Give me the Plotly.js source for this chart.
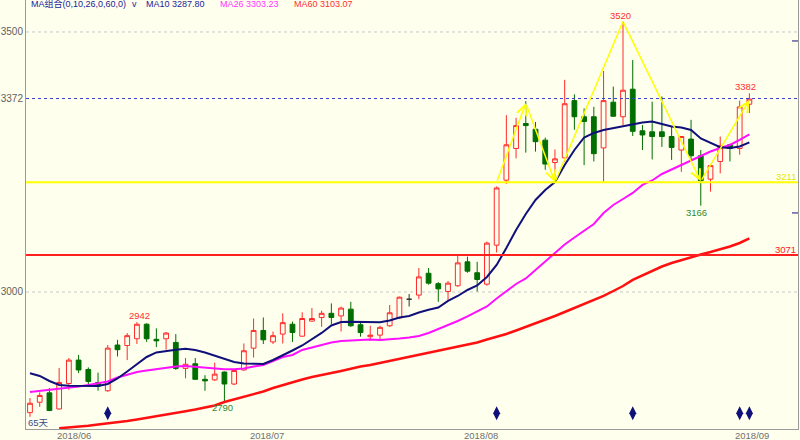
<!DOCTYPE html>
<html><head><meta charset="utf-8">
<script src="https://cdn.plot.ly/plotly-3.0.1.min.js"></script>
<style>html,body{margin:0;padding:0;background:#FFFFEE}</style>
</head><body><div id="chart" style="width:800px;height:440px"></div>
<script>
// ---- data ----
const openP  = [2768,2788,2806,2775,2824,2869,2851,2826,2810,2898,2897,2910,2938,2909,2910,2903,2853,2862,2832,2831,2846,2823,2850,2892,2926,2904,2919,2938,2915,2944,2951,2959,2954,2967,2937,2914,2917,2935,2950,2986,2994,3036,3016,3001,3012,3058,3037,3015,3090,3215,3276,3324,3313,3292,3249,3258,3368,3337,3337,3277,3365,3337,3390,3310,3308,3308,3299,3273,3294,3262,3217,3251,3283,3276,3361];
const highP  = [2796,2807,2815,2854,2873,2879,2855,2845,2898,2908,2921,2942,2940,2930,2923,2919,2873,2873,2840,2864,2847,2850,2901,2949,2951,2924,2959,2943,2961,2969,2964,2978,2972,2981,2944,2935,2935,2975,2991,2996,3046,3046,3019,3021,3071,3068,3058,3097,3203,3340,3335,3367,3327,3297,3274,3408,3380,3353,3356,3425,3395,3520,3446,3321,3366,3376,3318,3299,3331,3273,3246,3299,3285,3368,3382];
const lowP   = [2760,2779,2771,2774,2812,2844,2821,2810,2808,2876,2869,2900,2904,2894,2889,2850,2834,2831,2810,2829,2790,2821,2849,2874,2900,2900,2901,2904,2914,2943,2933,2938,2924,2933,2914,2906,2908,2933,2948,2972,2986,3014,2981,2985,3010,3037,3001,3012,3076,3208,3257,3268,3270,3235,3222,3250,3312,3244,3251,3212,3337,3321,3300,3273,3255,3279,3254,3231,3254,3166,3193,3228,3251,3264,3344];
const closeP = [2786,2801,2772,2826,2869,2850,2828,2819,2892,2889,2916,2938,2910,2906,2921,2853,2861,2832,2829,2842,2823,2849,2887,2926,2908,2916,2941,2922,2949,2949,2959,2951,2969,2935,2922,2917,2932,2960,2990,2986,3029,3017,3006,3017,3056,3040,3024,3094,3200,3283,3320,3320,3289,3246,3256,3362,3337,3328,3266,3368,3338,3388,3309,3302,3299,3299,3278,3299,3262,3214,3243,3281,3276,3356,3371];
const ma10 = [2843.7,2838.5,2828.8,2821.2,2819.8,2819.2,2819.2,2819.2,2823.1,2833.7,2847.1,2861.5,2875.0,2883.7,2886.9,2889.0,2890.8,2888.5,2883.7,2877.9,2871.2,2865.4,2862.5,2861.5,2861.5,2869.2,2877.9,2887.5,2897.1,2909.6,2921.2,2935.6,2942.3,2942.9,2942.3,2941.7,2941.7,2945.2,2951.0,2953.8,2960.6,2965.8,2970.2,2982.7,2992.3,3003.8,3012.5,3028.8,3051.9,3084.6,3119.2,3150.0,3176.9,3196.2,3211.5,3244.2,3273.1,3297.1,3305.8,3311.5,3315.4,3319.2,3323.1,3326.0,3327.9,3323.7,3318.3,3316.3,3311.5,3295.2,3286.5,3278.3,3276.9,3279.8,3287.8];
const ma26 = [2807.7,2809.6,2811.5,2814.4,2816.3,2818.3,2821.2,2824.0,2827.9,2835.6,2841.3,2846.2,2849.0,2851.9,2854.8,2856.7,2857.7,2855.8,2854.2,2852.9,2851.5,2851.3,2852.9,2856.7,2859.6,2867.3,2875.0,2878.8,2888.5,2893.3,2898.1,2902.9,2905.8,2906.7,2908.7,2908.7,2907.7,2908.7,2910.6,2912.5,2915.4,2921.2,2928.8,2935.6,2944.2,2952.9,2962.5,2972.1,2987.5,3001.0,3015.4,3026.0,3042.3,3059.6,3076.0,3091.3,3104.8,3118.3,3130.8,3151.9,3167.3,3178.8,3190.4,3205.8,3214.4,3226.9,3235.6,3245.2,3253.8,3262.5,3270.2,3276.9,3282.7,3292.3,3303.2];
const ma60 = [null,null,null,2737.9,2739.4,2740.4,2742.7,2745.2,2747.1,2749.0,2751.9,2754.8,2757.7,2760.6,2764.4,2767.3,2770.6,2774.0,2777.9,2781.7,2788.5,2793.3,2798.1,2802.9,2808.7,2815.4,2821.2,2826.0,2831.7,2836.5,2839.8,2844.2,2848.1,2852.9,2856.7,2859.6,2863.5,2868.3,2872.1,2876.0,2879.8,2883.7,2887.5,2891.0,2894.2,2898.1,2902.9,2908.7,2913.5,2919.2,2926.0,2932.7,2940.4,2947.1,2953.8,2961.5,2969.2,2976.9,2984.6,2992.3,3001.9,3011.5,3023.1,3031.7,3040.4,3049.0,3055.8,3061.5,3067.3,3072.1,3076.9,3081.7,3087.5,3094.2,3103.1];
const dojiIdx = [39];
const signalIdx = [8, 48, 62, 73, 74];
const signalLevel = 2767;
const zigIdx = [48, 51, 54, 61, 69, 74];
const zigVal = [3211, 3363, 3211, 3520, 3213, 3369];
const zigHead = [true, true, false, true, true];
const peakLabels = [
  {i: 11, v: 2942, txt: '2942', up: true,  color: '#FF3030', dx: 3},
  {i: 20, v: 2790, txt: '2790', up: false, color: '#2E8B2E', dx: -2},
  {i: 61, v: 3520, txt: '3520', up: true,  color: '#FF3030', dx: -3},
  {i: 74, v: 3382, txt: '3382', up: true,  color: '#FF3030', dx: -4},
  {i: 69, v: 3166, txt: '3166', up: false, color: '#2E8B2E', dx: -4}
];
const yTickVals = [3000, 3372, 3500];
const yTickText = ['3000', '3372', '3500'];
const xTickPos  = [4.5, 24.4, 46.4, 74.3];
const xTickText = ['2018/06', '2018/07', '2018/08', '2018/09'];
const supportLevel = 3211, lineLevel = 3071, dotLevel = 3372;
const rightTicks = [3482.7, 3152.0];
const header = [
  {txt: 'MA组合(0,10,26,0,60,0)', px: 29, color: '#1C1C9C'},
  {txt: 'v', px: 130, color: '#1C1C9C'},
  {txt: 'MA10 3287.80', px: 144, color: '#1C1C9C'},
  {txt: 'MA26 3303.23', px: 218, color: '#FF33FF'},
  {txt: 'MA60 3103.07', px: 292, color: '#FF3030'}
];

// ---- build ----
const BG = '#FFFFEE';
const FONT = 'Liberation Sans, Arial, Noto Sans CJK SC, sans-serif';
const N = openP.length;
const days = [...Array(N).keys()];
const isDoji = days.map(i => dojiIdx.includes(i));
const pick = (arr, want) => arr.map((v, i) => isDoji[i] === want ? v : null);

const RED = '#FF2A2A', GREEN = '#006E00';
const traces = [
  {type: 'candlestick', x: days, open: pick(openP,false), high: pick(highP,false), low: pick(lowP,false), close: pick(closeP,false),
   increasing: {line: {color: RED, width: 1}, fillcolor: BG},
   decreasing: {line: {color: GREEN, width: 1}, fillcolor: GREEN},
   whiskerwidth: 0, hoverinfo: 'skip'},
  {type: 'candlestick', x: days, open: pick(openP,true), high: pick(highP,true), low: pick(lowP,true), close: pick(closeP,true),
   increasing: {line: {color: '#333333', width: 1}, fillcolor: '#333333'},
   decreasing: {line: {color: '#333333', width: 1}, fillcolor: '#333333'},
   whiskerwidth: 0, hoverinfo: 'skip'},
  {type: 'scatter', mode: 'lines', x: days, y: ma60, line: {color: '#FF1010', width: 2.5}, hoverinfo: 'skip'},
  {type: 'scatter', mode: 'lines', x: days, y: ma26, line: {color: '#FF10FF', width: 2}, hoverinfo: 'skip'},
  {type: 'scatter', mode: 'lines', x: days, y: ma10, line: {color: '#10107A', width: 2}, hoverinfo: 'skip'},
  {type: 'scatter', mode: 'markers', x: signalIdx, y: signalIdx.map(() => signalLevel),
   marker: {symbol: 'diamond-tall', size: 10, color: '#10107A'}, hoverinfo: 'skip'}
];

const shapes = [
  {type: 'line', xref: 'paper', x0: 0, x1: 1, yref: 'y', y0: 3500, y1: 3500, line: {color: '#C8C8C8', width: 1, dash: 'dot'}, layer: 'below'},
  {type: 'line', xref: 'paper', x0: 0, x1: 1, yref: 'y', y0: 3000, y1: 3000, line: {color: '#C8C8C8', width: 1, dash: 'dot'}, layer: 'below'},
  {type: 'line', xref: 'paper', x0: 0, x1: 1, yref: 'y', y0: dotLevel, y1: dotLevel, line: {color: '#3A3ACF', width: 1, dash: 'dot'}, layer: 'above'},
  {type: 'line', xref: 'paper', x0: 0, x1: 1, yref: 'y', y0: supportLevel, y1: supportLevel, line: {color: '#FFFF00', width: 2}, layer: 'above'},
  {type: 'line', xref: 'paper', x0: 0, x1: 1, yref: 'y', y0: lineLevel, y1: lineLevel, line: {color: '#FF2020', width: 2}, layer: 'above'}
];
rightTicks.forEach(v => shapes.push({type: 'line', xref: 'paper', x0: 0.9922, x1: 1, yref: 'y', y0: v, y1: v, line: {color: '#10107A', width: 1}}));

const annotations = [];
for (let k = 0; k < zigIdx.length - 1; k++) {
  annotations.push({xref: 'x', yref: 'y', axref: 'x', ayref: 'y',
    x: zigIdx[k+1], y: zigVal[k+1], ax: zigIdx[k], ay: zigVal[k],
    text: '', showarrow: true, arrowhead: zigHead[k] ? 5 : 0, arrowsize: 1.3,
    arrowwidth: 1.5, arrowcolor: '#FFFF00', standoff: 0, startstandoff: 0});
}
peakLabels.forEach(p => annotations.push({xref: 'x', yref: 'y', x: p.i, y: p.v, text: p.txt,
  showarrow: false, xshift: p.dx, yanchor: p.up ? 'bottom' : 'top', yshift: p.up ? -1 : 1,
  font: {family: FONT, size: 9.5, color: p.color}}));
annotations.push({xref: 'paper', x: 1, xanchor: 'right', yref: 'y', y: supportLevel, yanchor: 'bottom', yshift: -2,
  text: '3211', showarrow: false, font: {family: FONT, size: 9.5, color: '#E6E600'}});
annotations.push({xref: 'paper', x: 1, xanchor: 'right', yref: 'y', y: lineLevel, yanchor: 'bottom', yshift: -2,
  text: '3071', showarrow: false, font: {family: FONT, size: 9.5, color: '#FF2020'}});
header.forEach(h => annotations.push({xref: 'paper', x: (h.px - 26) / 772, xanchor: 'left', yref: 'paper', y: 0.991, yanchor: 'middle',
  text: h.txt, showarrow: false, font: {family: FONT, size: 9, color: h.color}}));
annotations.push({xref: 'paper', x: 0, xanchor: 'left', xshift: 0, yref: 'paper', y: 0.016, yanchor: 'middle',
  text: '65天', showarrow: false, font: {family: FONT, size: 9.5, color: '#3A4A8A'}});
xTickPos.forEach((p, k) => annotations.push({xref: 'x', x: p, xanchor: 'center', yref: 'paper', y: 0, yanchor: 'middle', yshift: -6,
  text: xTickText[k], showarrow: false, font: {family: FONT, size: 9.5, color: '#707070'}}));

const layout = {
  width: 800, height: 440, margin: {l: 26, r: 2, t: 0, b: 11},
  paper_bgcolor: BG, plot_bgcolor: BG, showlegend: false, hovermode: false,
  xaxis: {range: [-0.41, 79.0], rangeslider: {visible: false}, showgrid: false, zeroline: false,
    showline: true, linecolor: '#9A9A9A', linewidth: 1, showticklabels: false,
    ticks: '', automargin: false, fixedrange: true},
  yaxis: {range: [2736.5, 3561.5], showgrid: false, zeroline: false, showline: true, mirror: true,
    linecolor: '#9A9A9A', linewidth: 1, tickmode: 'array', tickvals: yTickVals, ticktext: yTickText,
    ticks: '', tickfont: {family: FONT, size: 10, color: '#606060'}, automargin: false, fixedrange: true},
  shapes: shapes, annotations: annotations
};
Plotly.newPlot('chart', traces, layout, {displayModeBar: false, staticPlot: true});
</script></body></html>
